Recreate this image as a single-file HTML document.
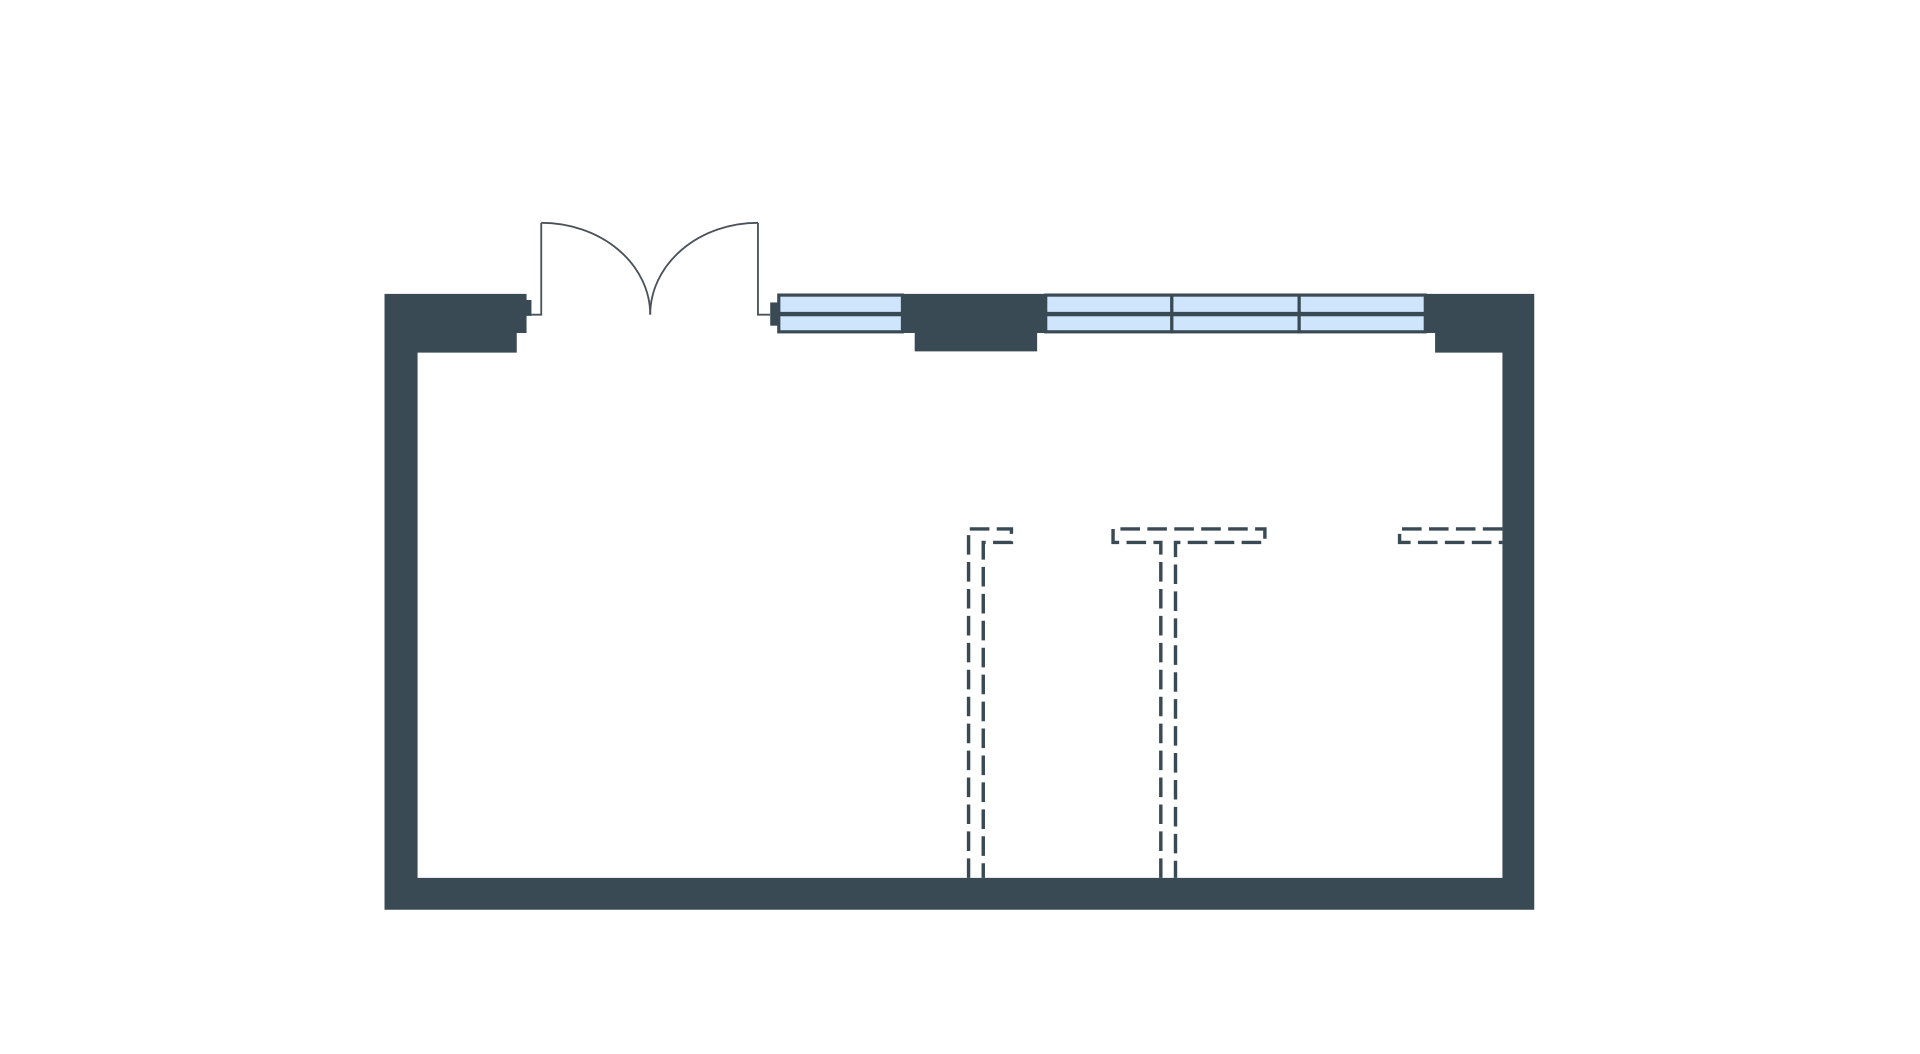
<!DOCTYPE html>
<html><head><meta charset="utf-8"><style>html,body{margin:0;padding:0;background:#fff;}svg{display:block}</style></head>
<body>
<svg width="1920" height="1054" viewBox="0 0 1568 860.8" xmlns="http://www.w3.org/2000/svg">
<rect width="1568" height="861" fill="#fff"/>
<g fill="#3a4a55">
<path d="M314,240 H430 V245 H434 V258 H430 V272 H422 V288 H341 V717 H1227 V288 H1172 V272 H1164 V240 H1253 V743 H314 Z"/>
<path d="M737,240 H853 V272 H847 V287 H747 V272 H737 Z"/>
<rect x="629" y="247" width="7" height="19"/>
</g>
<g fill="#cfe5fb" stroke="#3a4a55" stroke-width="2.6">
<rect x="636" y="241" width="101" height="15"/>
<rect x="636" y="257" width="101" height="14"/>
<rect x="854" y="241" width="103" height="15"/>
<rect x="854" y="257" width="103" height="14"/>
<rect x="957" y="241" width="104" height="15"/>
<rect x="957" y="257" width="104" height="14"/>
<rect x="1061" y="241" width="103" height="15"/>
<rect x="1061" y="257" width="103" height="14"/>
</g>
<g fill="none" stroke="#4a5359" stroke-width="1.5">
<path d="M434,257 H442 V182"/>
<path d="M442,182 A89,75 0 0 1 531,257"/>
<path d="M629,257 H619 V182"/>
<path d="M619,182 A88,75 0 0 0 531,257"/>
</g>
<g fill="none" stroke="#3a4a55" stroke-width="2.8" stroke-dasharray="16,6">
<path d="M791,717 V432 H826 V443 H803 V717"/>
<path d="M948,717 V443 H909 V432 H1033 V443 H960 V717"/>
<path d="M1227,432 H1143 V443 H1227"/>
</g>
</svg>
</body></html>
